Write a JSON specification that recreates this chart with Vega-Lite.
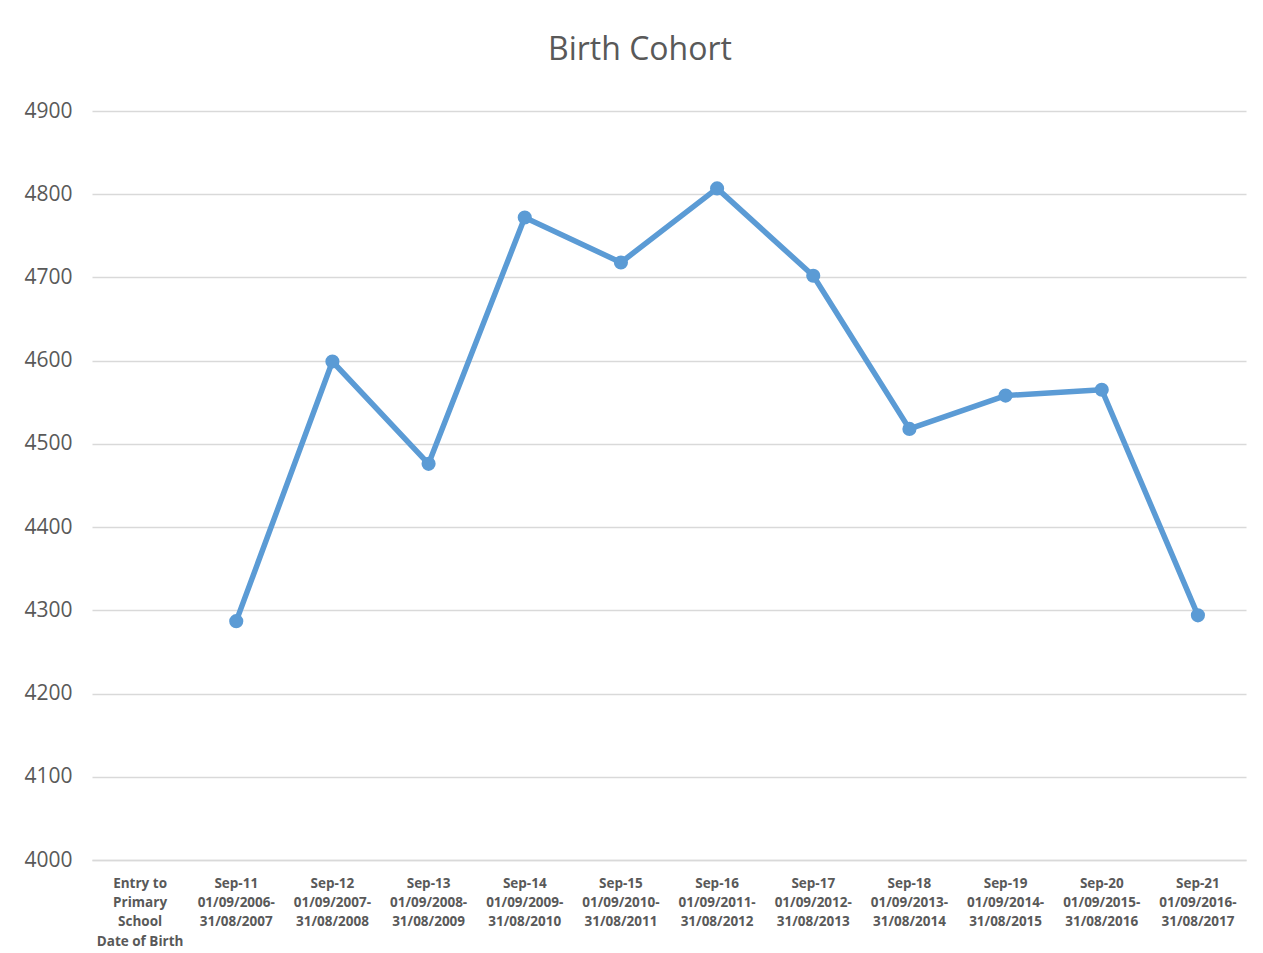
{
  "$schema": "https://vega.github.io/schema/vega-lite/v6.json",
  "width": 1154,
  "height": 749,
  "padding": {"left": 23, "top": 34, "right": 16, "bottom": 0},
  "background": "white",
  "title": {
    "text": "Birth Cohort",
    "font": "Open Sans",
    "fontSize": 32,
    "fontWeight": "normal",
    "color": "#595959",
    "anchor": "middle",
    "frame": "bounds",
    "dx": 5,
    "offset": 33
  },
  "data": {
    "values": [
      {"cohort": "Entry to|Primary|School|Date of Birth", "births": null},
      {"cohort": "Sep-11|01/09/2006-|31/08/2007", "births": 4287},
      {"cohort": "Sep-12|01/09/2007-|31/08/2008", "births": 4599},
      {"cohort": "Sep-13|01/09/2008-|31/08/2009", "births": 4476},
      {"cohort": "Sep-14|01/09/2009-|31/08/2010", "births": 4772},
      {"cohort": "Sep-15|01/09/2010-|31/08/2011", "births": 4718},
      {"cohort": "Sep-16|01/09/2011-|31/08/2012", "births": 4807},
      {"cohort": "Sep-17|01/09/2012-|31/08/2013", "births": 4702},
      {"cohort": "Sep-18|01/09/2013-|31/08/2014", "births": 4518},
      {"cohort": "Sep-19|01/09/2014-|31/08/2015", "births": 4558},
      {"cohort": "Sep-20|01/09/2015-|31/08/2016", "births": 4565},
      {"cohort": "Sep-21|01/09/2016-|31/08/2017", "births": 4294}
    ]
  },
  "encoding": {
    "x": {
      "field": "cohort",
      "type": "nominal",
      "sort": null,
      "scale": {
        "type": "band",
        "paddingInner": 0,
        "paddingOuter": 0,
        "domain": [
          "Entry to|Primary|School|Date of Birth",
          "Sep-11|01/09/2006-|31/08/2007",
          "Sep-12|01/09/2007-|31/08/2008",
          "Sep-13|01/09/2008-|31/08/2009",
          "Sep-14|01/09/2009-|31/08/2010",
          "Sep-15|01/09/2010-|31/08/2011",
          "Sep-16|01/09/2011-|31/08/2012",
          "Sep-17|01/09/2012-|31/08/2013",
          "Sep-18|01/09/2013-|31/08/2014",
          "Sep-19|01/09/2014-|31/08/2015",
          "Sep-20|01/09/2015-|31/08/2016",
          "Sep-21|01/09/2016-|31/08/2017"
        ]
      },
      "axis": {
        "title": null,
        "labelAngle": 0,
        "labelExpr": "split(datum.label, '|')",
        "labelFont": "Open Sans",
        "labelFontSize": 13.5,
        "labelFontWeight": "bold",
        "labelColor": "#595959",
        "labelLineHeight": 19.4,
        "labelPadding": 16,
        "labelLimit": 200,
        "ticks": false,
        "domain": true,
        "domainColor": "#d9d9d9",
        "domainWidth": 1.5,
        "grid": false
      }
    },
    "y": {
      "field": "births",
      "type": "quantitative",
      "scale": {"domain": [4000, 4900], "nice": false, "zero": false},
      "axis": {
        "title": null,
        "format": "d",
        "values": [4000, 4100, 4200, 4300, 4400, 4500, 4600, 4700, 4800, 4900],
        "labelFont": "Open Sans",
        "labelFontSize": 21,
        "labelColor": "#595959",
        "labelPadding": 20,
        "ticks": false,
        "domain": false,
        "grid": true,
        "gridColor": "#d9d9d9",
        "gridWidth": 1.5
      }
    }
  },
  "layer": [
    {
      "mark": {"type": "line", "color": "#5b9bd5", "strokeWidth": 5.5, "strokeCap": "round", "strokeJoin": "round"}
    },
    {
      "mark": {"type": "point", "filled": true, "color": "#5b9bd5", "size": 200, "opacity": 1}
    }
  ],
  "config": {
    "view": {"stroke": null}
  }
}
